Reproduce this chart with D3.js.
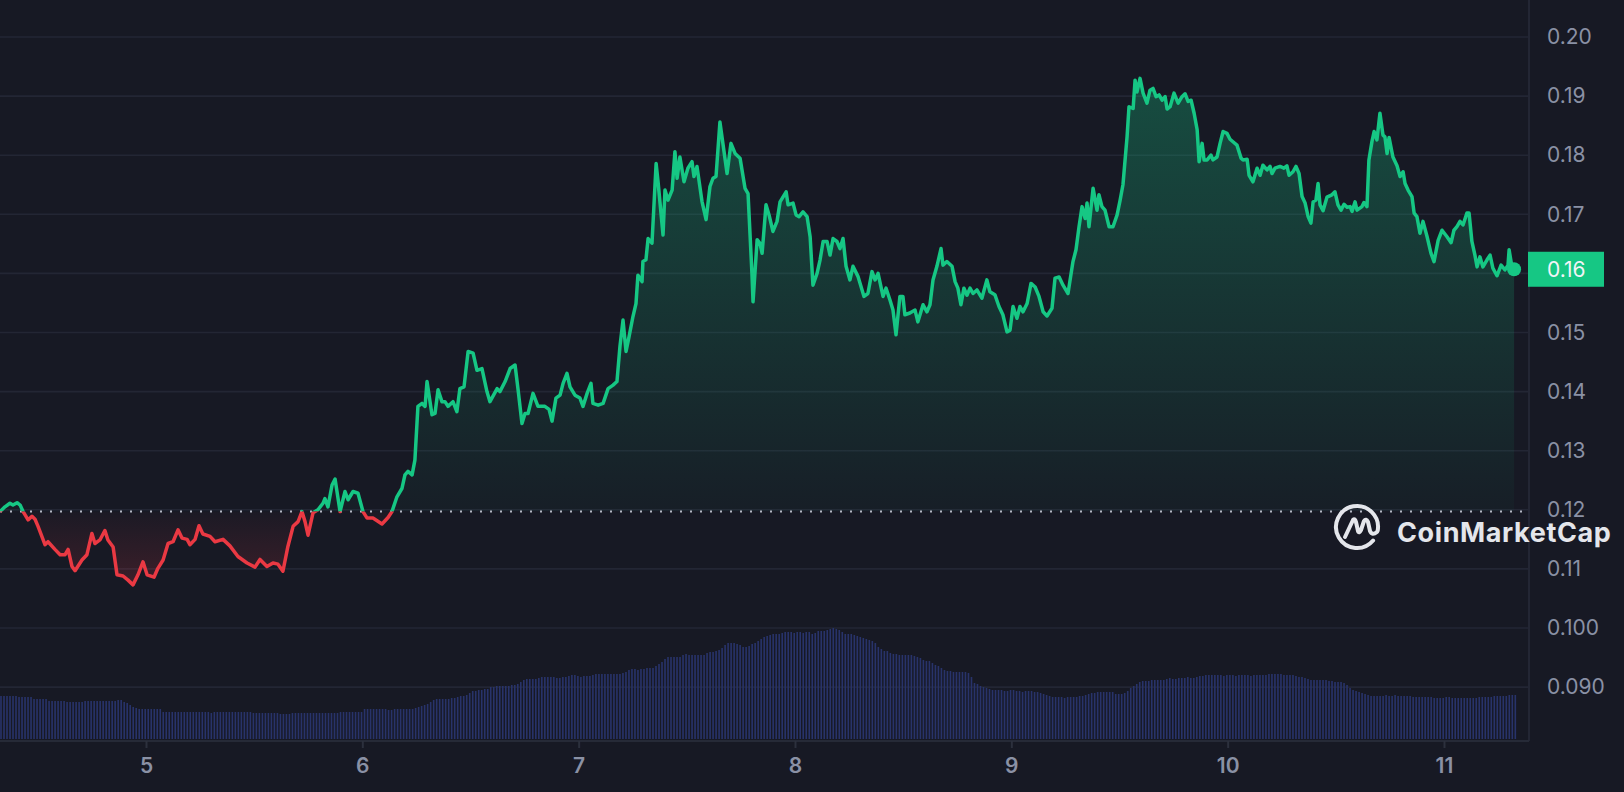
<!DOCTYPE html>
<html>
<head>
<meta charset="utf-8">
<script src="https://cdn.jsdelivr.net/npm/d3@7"></script>
<style>
  html, body { margin: 0; padding: 0; background: #171924; }
  svg { display: block; }
  text { font-family: Inter, "Noto Sans", sans-serif; }
</style>
</head>
<body>
<div id="chart"></div>
<script>

// Price, [day of month (UTC, fractional), price in USD]
var pricePoints = [
  [4.325,0.1197],[4.348,0.1205],[4.371,0.1211],[4.385,0.1208],[4.404,0.1212],[4.418,0.1208],[4.432,0.1197],
  [4.455,0.1183],[4.473,0.1189],[4.487,0.1184],[4.501,0.1172],[4.533,0.1141],[4.547,0.1146],[4.579,0.1133],
  [4.603,0.1124],[4.626,0.1124],[4.640,0.1133],[4.658,0.1104],[4.672,0.1097],[4.704,0.1115],[4.727,0.1124],
  [4.750,0.1160],[4.764,0.1143],[4.787,0.1149],[4.810,0.1165],[4.824,0.1149],[4.848,0.1137],[4.866,0.1090],
  [4.894,0.1088],[4.917,0.1081],[4.940,0.1073],[4.963,0.1090],[4.986,0.1112],[5.005,0.1090],[5.037,0.1086],
  [5.055,0.1101],[5.079,0.1115],[5.102,0.1143],[5.125,0.1146],[5.148,0.1166],[5.167,0.1152],[5.190,0.1150],
  [5.203,0.1141],[5.227,0.1150],[5.245,0.1173],[5.263,0.1159],[5.296,0.1155],[5.319,0.1146],[5.356,0.1150],
  [5.388,0.1139],[5.425,0.1121],[5.467,0.1110],[5.504,0.1103],[5.527,0.1116],[5.559,0.1104],[5.587,0.1110],
  [5.610,0.1108],[5.633,0.1096],[5.656,0.1138],[5.680,0.1172],[5.703,0.1180],[5.721,0.1197],[5.735,0.1180],
  [5.749,0.1157],[5.772,0.1195],[5.795,0.1200],[5.818,0.1211],[5.827,0.1219],[5.841,0.1205],[5.860,0.1242],
  [5.874,0.1252],[5.897,0.1197],[5.920,0.1231],[5.934,0.1217],[5.957,0.1231],[5.980,0.1228],[6.003,0.1197],
  [6.022,0.1186],[6.049,0.1186],[6.091,0.1176],[6.119,0.1187],[6.137,0.1197],[6.160,0.1222],[6.183,0.1236],
  [6.197,0.1259],[6.211,0.1265],[6.230,0.1259],[6.243,0.1284],[6.257,0.1375],[6.276,0.1380],[6.290,0.1375],
  [6.299,0.1417],[6.322,0.1361],[6.336,0.1363],[6.350,0.1403],[6.368,0.1383],[6.382,0.1383],[6.396,0.1375],
  [6.419,0.1383],[6.437,0.1366],[6.451,0.1405],[6.470,0.1408],[6.489,0.1468],[6.512,0.1465],[6.530,0.1436],
  [6.553,0.1439],[6.576,0.1400],[6.590,0.1383],[6.623,0.1405],[6.636,0.1400],[6.660,0.1417],[6.683,0.1439],
  [6.706,0.1445],[6.720,0.1403],[6.738,0.1346],[6.752,0.1363],[6.766,0.1363],[6.789,0.1397],[6.812,0.1375],
  [6.844,0.1375],[6.863,0.1370],[6.877,0.1350],[6.895,0.1389],[6.914,0.1394],[6.928,0.1414],[6.946,0.1431],
  [6.960,0.1408],[6.983,0.1394],[7.006,0.1389],[7.020,0.1375],[7.039,0.1397],[7.057,0.1414],[7.066,0.1380],
  [7.090,0.1377],[7.113,0.1380],[7.136,0.1405],[7.159,0.1411],[7.177,0.1417],[7.191,0.1477],[7.205,0.1521],
  [7.219,0.1468],[7.233,0.1493],[7.251,0.1527],[7.265,0.1549],[7.274,0.1597],[7.293,0.1586],[7.297,0.1620],
  [7.311,0.1623],[7.321,0.1659],[7.339,0.1651],[7.358,0.1786],[7.367,0.1755],[7.390,0.1665],[7.399,0.1741],
  [7.413,0.1724],[7.432,0.1741],[7.445,0.1806],[7.455,0.1761],[7.468,0.1797],[7.487,0.1755],[7.505,0.1778],
  [7.524,0.1789],[7.533,0.1764],[7.547,0.1781],[7.570,0.1722],[7.589,0.1691],[7.607,0.1747],[7.621,0.1761],
  [7.635,0.1764],[7.653,0.1856],[7.686,0.1769],[7.704,0.1820],[7.723,0.1803],[7.746,0.1795],[7.769,0.1744],
  [7.783,0.1735],[7.801,0.1600],[7.806,0.1552],[7.825,0.1657],[7.838,0.1651],[7.848,0.1634],[7.866,0.1716],
  [7.880,0.1699],[7.898,0.1671],[7.917,0.1688],[7.931,0.1721],[7.959,0.1738],[7.968,0.1716],[7.991,0.1719],
  [8.005,0.1699],[8.019,0.1696],[8.037,0.1704],[8.056,0.1696],[8.070,0.1662],[8.083,0.1580],[8.102,0.1600],
  [8.116,0.1623],[8.130,0.1654],[8.148,0.1654],[8.162,0.1631],[8.176,0.1659],[8.194,0.1654],[8.208,0.1642],
  [8.222,0.1659],[8.236,0.1612],[8.254,0.1589],[8.268,0.1612],[8.291,0.1595],[8.319,0.1561],[8.337,0.1566],
  [8.356,0.1603],[8.370,0.1589],[8.384,0.1600],[8.407,0.1561],[8.421,0.1575],[8.439,0.1555],[8.453,0.1538],
  [8.467,0.1496],[8.485,0.1561],[8.499,0.1561],[8.508,0.1530],[8.531,0.1533],[8.555,0.1538],[8.568,0.1518],
  [8.592,0.1547],[8.610,0.1535],[8.624,0.1547],[8.638,0.1589],[8.656,0.1612],[8.675,0.1642],[8.684,0.1614],
  [8.702,0.1620],[8.726,0.1612],[8.740,0.1586],[8.753,0.1575],[8.767,0.1547],[8.781,0.1575],[8.795,0.1563],
  [8.809,0.1575],[8.823,0.1566],[8.841,0.1572],[8.864,0.1558],[8.887,0.1589],[8.901,0.1569],[8.924,0.1564],
  [8.943,0.1544],[8.961,0.1530],[8.980,0.1501],[8.994,0.1504],[9.008,0.1544],[9.026,0.1524],[9.040,0.1544],
  [9.054,0.1535],[9.073,0.1549],[9.091,0.1583],[9.110,0.1577],[9.128,0.1561],[9.147,0.1535],[9.165,0.1528],
  [9.188,0.1541],[9.202,0.1592],[9.221,0.1594],[9.239,0.1580],[9.262,0.1566],[9.285,0.1620],[9.299,0.1640],
  [9.313,0.1679],[9.327,0.1713],[9.341,0.1693],[9.350,0.1719],[9.359,0.1679],[9.378,0.1744],[9.396,0.1707],
  [9.405,0.1733],[9.419,0.1713],[9.433,0.1707],[9.452,0.1679],[9.470,0.1679],[9.489,0.1699],[9.503,0.1724],
  [9.516,0.1750],[9.535,0.1831],[9.544,0.1882],[9.563,0.1879],[9.572,0.1927],[9.581,0.1907],[9.595,0.1930],
  [9.609,0.1905],[9.627,0.1888],[9.641,0.1910],[9.655,0.1913],[9.669,0.1899],[9.683,0.1902],[9.697,0.1893],
  [9.711,0.1899],[9.720,0.1878],[9.734,0.1882],[9.752,0.1905],[9.771,0.1888],[9.789,0.1899],[9.803,0.1904],
  [9.817,0.1891],[9.831,0.1893],[9.845,0.1871],[9.859,0.1843],[9.868,0.1789],[9.882,0.1820],[9.891,0.1792],
  [9.905,0.1792],[9.923,0.1800],[9.932,0.1792],[9.951,0.1797],[9.965,0.1820],[9.979,0.1840],[9.997,0.1837],
  [10.011,0.1827],[10.030,0.1821],[10.043,0.1817],[10.062,0.1795],[10.071,0.1792],[10.090,0.1793],
  [10.099,0.1766],[10.117,0.1755],[10.136,0.1778],[10.150,0.1766],[10.163,0.1783],[10.182,0.1775],
  [10.196,0.1781],[10.205,0.1769],[10.219,0.1778],[10.242,0.1781],[10.260,0.1778],[10.274,0.1782],
  [10.284,0.1766],[10.302,0.1772],[10.316,0.1781],[10.330,0.1769],[10.344,0.1730],[10.358,0.1719],
  [10.372,0.1696],[10.385,0.1685],[10.395,0.1721],[10.408,0.1724],[10.418,0.1752],[10.427,0.1716],
  [10.441,0.1706],[10.459,0.1729],[10.482,0.1733],[10.496,0.1738],[10.510,0.1716],[10.524,0.1707],
  [10.538,0.1717],[10.552,0.1712],[10.566,0.1713],[10.575,0.1705],[10.589,0.1721],[10.598,0.1707],
  [10.621,0.1713],[10.630,0.1720],[10.644,0.1713],[10.653,0.1792],[10.667,0.1823],[10.677,0.1840],
  [10.690,0.1826],[10.704,0.1871],[10.718,0.1834],[10.727,0.1831],[10.737,0.1803],[10.746,0.1830],
  [10.764,0.1797],[10.783,0.1782],[10.797,0.1764],[10.811,0.1772],[10.820,0.1752],[10.834,0.1741],
  [10.852,0.1730],[10.862,0.1702],[10.875,0.1696],[10.889,0.1668],[10.903,0.1688],[10.922,0.1662],
  [10.940,0.1634],[10.954,0.1620],[10.973,0.1656],[10.991,0.1673],[11.014,0.1662],[11.033,0.1652],
  [11.046,0.1673],[11.060,0.1679],[11.074,0.1688],[11.088,0.1682],[11.106,0.1702],[11.116,0.1702],
  [11.129,0.1654],[11.143,0.1631],[11.153,0.1611],[11.166,0.1628],[11.180,0.1611],[11.199,0.1623],
  [11.213,0.1631],[11.226,0.1609],[11.245,0.1596],[11.264,0.1614],[11.282,0.1606],[11.296,0.1614],
  [11.301,0.1640],[11.314,0.1611],[11.324,0.1607]
];

// 24h volume (USD millions), one bar every 20 minutes
var volumeStartDay = 4.3297;
var volumeStepDays = 1 / 72;
var volumeValues = [
  43,43,43,43,43,43, 42,42,42,42,42, 40,40,40,40,40, 38,38,38,38,38,38, 37,37,37,37,37,37,
  38,38,38,38,38,38,38,38,38,38,38, 39,39, 37,36, 34,32, 31, 30,30,30,30,30,30,30,30,
  27,27,27,27,27,27,27,27,27,27,27,27,27,27,27,27, 26,27, 27,27,27,27,27,27,27,27,27,27,27,27,
  26,26,26,26,26,26,26,26,26, 25,25,25,25, 26,26,26,26,26,26,26,26,26,26,26,26,26,26,26,26,
  27,27,27,27,27,27,27,27, 30,30,30,30,30,30,30,30, 29,29, 30,30,30,30,30,30,30,
  31,32,33, 34,35,37, 39,40,40,40,40,40, 41,41,42, 43,43,44, 46, 48,48,49,49, 50,50,
  52,52,53,53,53,53,53, 54,54,55, 57, 59,60,60,60,60, 61, 62,62,62,62,62, 61,61,62,62,
  63,64,64,63, 62,63,63,63, 64,65,65,65,65,65,65,65,65,65, 66,67, 69,70,70, 69, 70,70,71,71,71,
  73, 75,77, 80,82,82,82,82,82, 84,85, 84,84,84,84,84,84, 86,87,87,88, 89,91, 94,96,96,96,
  95,94, 92,92,93, 95,96,98, 100,102, 103,104,105,105,105,106, 107,107,107,106,107,107,106,107,107,
  105, 106,108,108,108, 109,110,111,110,109, 107, 105,105,105,104, 103,102,101, 100,99,98, 96, 92,
  90,88,88, 86, 85,85,84,84,84,84,84, 83,82,81, 79,78,78, 76, 74,73, 71,69, 68,68, 67,67,67,67,67,66,
  62, 56,55, 53,52, 51,50, 49,49,49,49,48,48,49,49,48,48, 47,48,48,48,47,47, 46,45,
  44,43,42,42,42,42,41,42,42,42, 42,43,43, 44,45,46, 46,47,47,47,47,47, 47,45,45,45,46, 48,51,53,
  55,57,58,58,58, 59,59,59,59,59, 60,61,60,60, 61,61,61,62,61,61, 62,63,63, 64,64,64,
  64,64,64,63,64,64,64,63,64,64,64,64,63,64,64,64,64,64, 65,65,65,65,65, 64,64,64,64,63, 62,62,61,
  60,59,59,59,59,59,59, 58,58, 57,57,57, 56,54, 51,49, 48,47, 46,45,44, 43,43,
  43,43,43,44,43,43,44,43,43,43,43,43, 42,42,42,42,42,42,42,
  41,41,41,41,42,42,41,41,41,41,41,41,41,41,41,42, 42,42,42,42,43,43, 43,43,43,44, 44,44
];

// Axis ticks
var yTickValues = [0.09, 0.10, 0.11, 0.12, 0.13, 0.14, 0.15, 0.16, 0.17, 0.18, 0.19, 0.20];
var yTickLabels = ["0.090", "0.100", "0.11", "0.12", "0.13", "0.14", "0.15", "0.16", "0.17", "0.18", "0.19", "0.20"];
var xDomainDays = [4.3251, 11.393];

var width = 1624, height = 792;
var plotRight = 1529, plotBottom = 741;
var green = "#16c784", red = "#ea3943";

function dayToDate(d) {
  return new Date(Date.UTC(2024, 10, 1) + (d - 1) * 864e5);
}

var svg = d3.select("#chart").append("svg")
    .attr("width", width)
    .attr("height", height)
    .style("background", "#171924");

// Scales
var x = d3.scaleUtc()
    .domain(xDomainDays.map(dayToDate))
    .range([0, plotRight]);

var y = d3.scaleLinear()
    .domain([0.08088, 0.20626])
    .range([plotBottom, 0]);

var yVol = d3.scaleLinear()
    .domain([0, 111])
    .range([739, 628]);

var basePrice = pricePoints[0][1];
var yBase = y(basePrice);
var last = pricePoints[pricePoints.length - 1];

// defs: clips + gradients
var defs = svg.append("defs");
defs.append("clipPath").attr("id", "clip-up")
  .append("rect").attr("x", 0).attr("y", 0).attr("width", plotRight).attr("height", yBase);
defs.append("clipPath").attr("id", "clip-down")
  .append("rect").attr("x", 0).attr("y", yBase).attr("width", plotRight).attr("height", plotBottom - yBase);

var gUp = defs.append("linearGradient").attr("id", "grad-up")
    .attr("gradientUnits", "userSpaceOnUse")
    .attr("x1", 0).attr("x2", 0).attr("y1", y(0.193)).attr("y2", yBase);
gUp.append("stop").attr("offset", 0).attr("stop-color", green).attr("stop-opacity", 0.3);
gUp.append("stop").attr("offset", 1).attr("stop-color", green).attr("stop-opacity", 0.03);

var gDown = defs.append("linearGradient").attr("id", "grad-down")
    .attr("gradientUnits", "userSpaceOnUse")
    .attr("x1", 0).attr("x2", 0).attr("y1", yBase).attr("y2", y(0.107));
gDown.append("stop").attr("offset", 0).attr("stop-color", red).attr("stop-opacity", 0.02);
gDown.append("stop").attr("offset", 1).attr("stop-color", red).attr("stop-opacity", 0.18);

// Grid lines
svg.append("g").attr("class", "grid")
  .selectAll("line")
  .data(yTickValues)
  .enter().append("line")
    .attr("x1", 0).attr("x2", plotRight)
    .attr("y1", function(d) { return y(d); })
    .attr("y2", function(d) { return y(d); })
    .attr("stroke", "#232634")
    .attr("stroke-width", 1.6);

// Volume bars
svg.append("g").attr("class", "volume")
  .selectAll("rect")
  .data(volumeValues)
  .enter().append("rect")
    .attr("x", function(d, i) { return x(dayToDate(volumeStartDay + i * volumeStepDays)) - 0.8; })
    .attr("y", function(d) { return yVol(d); })
    .attr("width", 1.6)
    .attr("height", function(d) { return yVol(0) - yVol(d); })
    .attr("fill", "#28336a");

// Price area + line
var area = d3.area()
    .x(function(d) { return x(dayToDate(d[0])); })
    .y0(yBase)
    .y1(function(d) { return y(d[1]); });

var line = d3.line()
    .x(function(d) { return x(dayToDate(d[0])); })
    .y(function(d) { return y(d[1]); });

svg.append("path").datum(pricePoints)
    .attr("d", area).attr("fill", "url(#grad-up)").attr("clip-path", "url(#clip-up)");
svg.append("path").datum(pricePoints)
    .attr("d", area).attr("fill", "url(#grad-down)").attr("clip-path", "url(#clip-down)");

// baseline (open price)
svg.append("line")
    .attr("x1", 0).attr("x2", plotRight - 4)
    .attr("y1", yBase).attr("y2", yBase)
    .attr("stroke", "#b4b8c4")
    .attr("stroke-width", 2)
    .attr("stroke-dasharray", "2,8");

svg.append("path").datum(pricePoints)
    .attr("d", line).attr("fill", "none").attr("stroke", green)
    .attr("stroke-width", 3.5).attr("stroke-linejoin", "round")
    .attr("clip-path", "url(#clip-up)");
svg.append("path").datum(pricePoints)
    .attr("d", line).attr("fill", "none").attr("stroke", red)
    .attr("stroke-width", 3.5).attr("stroke-linejoin", "round")
    .attr("clip-path", "url(#clip-down)");

svg.append("circle")
    .attr("cx", x(dayToDate(last[0])))
    .attr("cy", y(last[1]))
    .attr("r", 7)
    .attr("fill", green);

// Frame
svg.append("line")
    .attr("x1", plotRight).attr("x2", plotRight).attr("y1", 0).attr("y2", plotBottom)
    .attr("stroke", "#232634").attr("stroke-width", 2);
svg.append("line")
    .attr("x1", 0).attr("x2", plotRight).attr("y1", plotBottom).attr("y2", plotBottom)
    .attr("stroke", "#262a37").attr("stroke-width", 2);

// Axes
var xAxis = d3.axisBottom(x)
    .ticks(d3.utcDay.every(1))
    .tickFormat(d3.utcFormat("%-d"))
    .tickSize(7)
    .tickPadding(10);

var gx = svg.append("g")
    .attr("class", "x-axis axis")
    .attr("transform", "translate(0," + plotBottom + ")")
    .call(xAxis);
gx.select(".domain").remove();
gx.selectAll(".tick line").attr("stroke", "#2c303d").attr("stroke-width", 2);
gx.selectAll(".tick text")
    .attr("fill", "#8a91a5")
    .attr("font-size", 21)
    .attr("font-weight", 600)
    .attr("font-family", "Inter, sans-serif");

var yAxis = d3.axisRight(y)
    .tickValues(yTickValues)
    .tickFormat(function(d, i) { return yTickLabels[i]; })
    .tickSize(0)
    .tickPadding(18);

var gy = svg.append("g")
    .attr("class", "y-axis axis")
    .attr("transform", "translate(" + plotRight + ",0)")
    .call(yAxis);
gy.select(".domain").remove();
gy.selectAll(".tick text")
    .attr("fill", "#8a91a5")
    .attr("font-size", 21)
    .attr("font-family", "Inter, sans-serif");

// the price tag hides the axis label under it
gy.selectAll(".tick")
  .filter(function(d) { return Math.abs(y(d) - y(last[1])) < 20; })
  .select("text").remove();

// current price tag
svg.append("rect")
    .attr("x", plotRight - 1).attr("y", y(last[1]) - 17.5)
    .attr("width", 76).attr("height", 35)
    .attr("fill", green);
svg.append("text")
    .attr("x", plotRight + 18).attr("y", y(last[1]))
    .attr("dy", "0.35em")
    .attr("fill", "#f2f4f7")
    .attr("font-size", 21)
    .text(d3.format(".2f")(last[1]));

// Watermark
var wm = svg.append("g").attr("transform", "translate(1357,527)");
wm.append("path")
    .attr("d", "M 20.7 3.6 A 21 21 0 1 0 16.1 13.5")
    .attr("fill", "none").attr("stroke", "#e4e6eb").attr("stroke-width", 4).attr("stroke-linecap", "round");
wm.append("path")
    .attr("d", "M -12 10 L -4 -7 Q -2 -9 -1 -5 L 1 4 Q 2 7 4 3 L 7 -6 Q 9 -9 11 -5 L 13 4 Q 15 9 20 5")
    .attr("fill", "none").attr("stroke", "#e4e6eb").attr("stroke-width", 4)
    .attr("stroke-linejoin", "round").attr("stroke-linecap", "round");
svg.append("text")
    .attr("x", 1397).attr("y", 542)
    .attr("fill", "#e4e6eb")
    .attr("font-size", 27)
    .attr("font-weight", 700)
    .attr("letter-spacing", 0.6)
    .text("CoinMarketCap");

</script>
</body>
</html>
